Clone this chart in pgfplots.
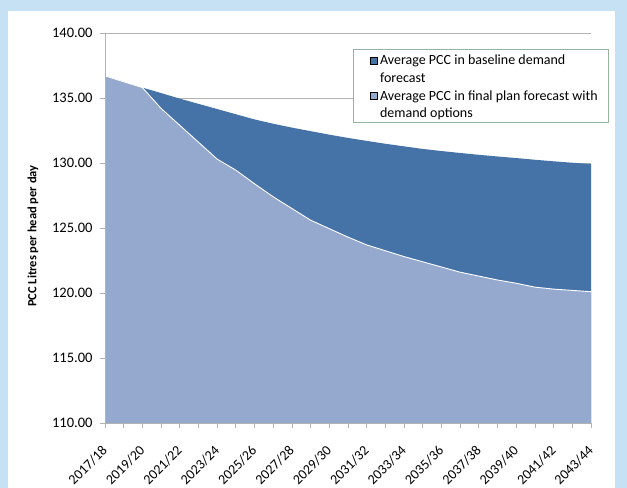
\documentclass[border=0pt]{standalone}
\usepackage{pgfplots}
\usepackage{pgfplotstable}
\pgfplotsset{compat=1.18}
\usepackage{fontspec}
\setmainfont{Carlito}
\definecolor{darkA}{RGB}{69,114,167}
\definecolor{lightA}{RGB}{149,169,207}
\definecolor{frameC}{RGB}{198,224,244}
\definecolor{gridC}{RGB}{178,178,178}
\definecolor{legC}{RGB}{150,180,160}
\pgfplotstableread{
idx base final
0 136.70 136.70
1 136.25 136.25
2 135.80 135.80
3 135.38 134.20
4 134.95 132.90
5 134.55 131.60
6 134.15 130.30
7 133.75 129.45
8 133.35 128.40
9 133.02 127.40
10 132.72 126.50
11 132.45 125.60
12 132.18 124.95
13 131.93 124.30
14 131.70 123.70
15 131.48 123.25
16 131.28 122.80
17 131.08 122.40
18 130.92 122.00
19 130.77 121.60
20 130.63 121.30
21 130.50 121.00
22 130.38 120.75
23 130.25 120.45
24 130.13 120.30
25 130.02 120.20
26 129.92 120.10
}\datatable
\begin{document}
\begin{tikzpicture}
\useasboundingbox (0,0) rectangle (627bp,488bp);
\fill[frameC] (0,0) rectangle (627bp,488bp);
\fill[white] (8bp,0) rectangle (615bp,477bp);
\node[rotate=90, font=\fontsize{12.5bp}{15bp}\selectfont\bfseries] at (33bp,252bp) {PCC Litres per head per day};
\begin{axis}[
  at={(105bp,65bp)}, anchor=south west,
  scale only axis, width=486bp, height=390bp,
  xmin=0, xmax=26, ymin=110, ymax=140,
  axis x line*=bottom, axis y line*=left,
  axis line style={draw=gridC, line width=0.8bp, -},
  ytick={110,115,120,125,130,135,140},
  ymajorgrids, major grid style={draw=gridC, line width=0.8bp},
  tick align=outside, major tick length=5bp,
  tick style={draw=gridC, line width=0.8bp},
  xtick={0,...,26},
  xticklabels={2017/18,,2019/20,,2021/22,,2023/24,,2025/26,,2027/28,,2029/30,,2031/32,,2033/34,,2035/36,,2037/38,,2039/40,,2041/42,,2043/44},
  x tick label style={rotate=45, anchor=north east, font=\fontsize{14bp}{16bp}\selectfont, inner sep=1bp, xshift=-13.4bp, yshift=-7.8bp},
  y tick label style={font=\fontsize{14.5bp}{16bp}\selectfont, xshift=-4bp, /pgf/number format/.cd, fixed, fixed zerofill, precision=2, assume math mode=true},
  legend style={at={(0.510,0.959)}, anchor=north west, draw=legC, line width=0.8bp,
    font=\fontsize{14bp}{17.5bp}\selectfont, inner xsep=9bp, inner ysep=1bp,
    cells={anchor=base west, inner ysep=0bp, text height=12.25bp, text depth=5.25bp}},
  legend image code/.code={\path (0bp,0bp); \fill[#1] (8bp,0.5bp) rectangle (15bp,7.5bp);},
]
\addplot[fill=darkA, draw=none, forget plot] table[x=idx, y=base] {\datatable} \closedcycle;
\addplot[fill=lightA, draw=none, forget plot] table[x=idx, y=final] {\datatable} \closedcycle;
\addplot[draw=white, line width=0.9bp, forget plot] table[x=idx, y=final] {\datatable};
\addlegendimage{fill=darkA}
\addlegendentry{Average PCC in baseline demand}
\addlegendimage{empty legend}
\addlegendentry{forecast}
\addlegendimage{fill=lightA}
\addlegendentry{Average PCC in final plan forecast with}
\addlegendimage{empty legend}
\addlegendentry{demand options}
\end{axis}
\draw[gridC, line width=0.8bp] (current axis.north west) -- (current axis.south west) -- (current axis.south east);
\end{tikzpicture}
\end{document}
